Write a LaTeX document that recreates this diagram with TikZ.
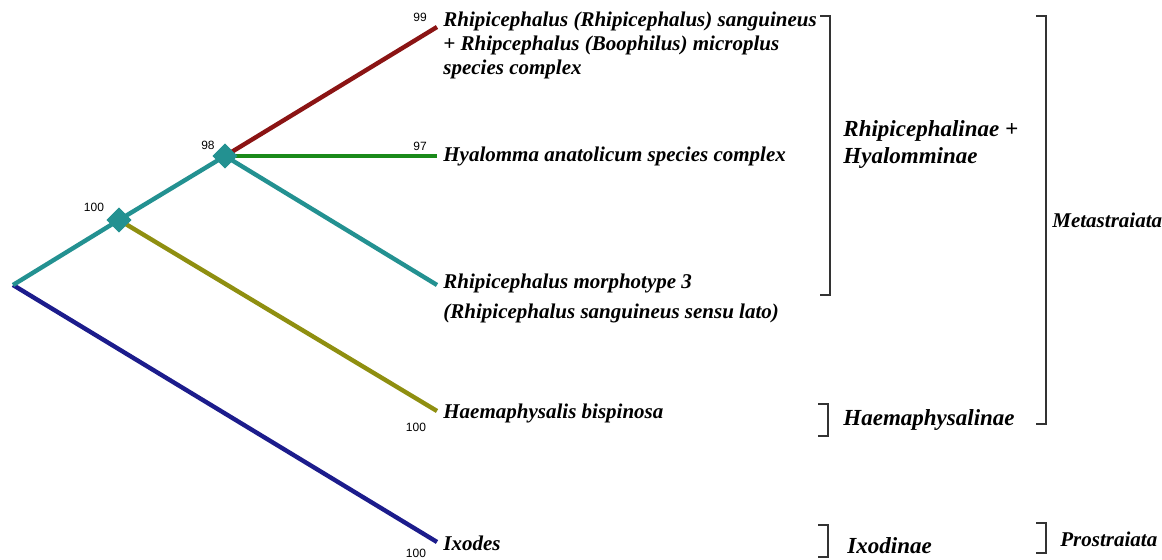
\documentclass[tikz,border=0pt]{standalone}
\usepackage{fontspec}
\setmainfont{Liberation Serif}
\setsansfont{Liberation Sans}
\usetikzlibrary{positioning, shapes.geometric}
\definecolor{cladered}{HTML}{8B1414}
\definecolor{cladegreen}{HTML}{1A8A1A}
\definecolor{cladeteal}{HTML}{239191}
\definecolor{cladeolive}{HTML}{8F8F10}
\definecolor{cladeblue}{HTML}{1C1C8C}

\begin{document}
\begin{tikzpicture}[x=0.5pt, y=-0.5pt,
  branch/.style={line width=2.2pt},
  splitnode/.style={diamond, fill=cladeteal, inner sep=0pt, minimum size=12.5pt},
  taxon/.style={anchor=west, align=left, inner sep=0pt, font=\fontsize{10.5}{12}\selectfont\bfseries\itshape},
  group/.style={anchor=west, align=left, inner sep=0pt, font=\fontsize{11.5}{13.5}\selectfont\bfseries\itshape},
  outer/.style={anchor=west, inner sep=0pt, font=\fontsize{10.5}{12}\selectfont\bfseries\itshape},
  support/.style={inner sep=0pt, font=\sffamily\fontsize{6}{7}\selectfont},
  bracket/.style={line width=0.6pt, black!80}
]
\useasboundingbox (0,0) rectangle (1162,560);

% tree points
\coordinate (root) at (13,285);
\node[splitnode] (na) at (119,220) {};
\node[splitnode] (nb) at (225,156) {};
\coordinate (leafred) at (437,27);
\coordinate (leafgreen) at (437,156);
\coordinate (leafteal) at (437,285);
\coordinate (leafolive) at (437,411);
\coordinate (leafblue) at (437,542);

% branches
\draw[branch, cladeblue] (root) -- (leafblue);
\draw[branch, cladeolive] (na.center) -- (leafolive);
\draw[branch, cladeteal] (nb.center) -- (leafteal);
\draw[branch, cladered] (nb.center) -- (leafred);
\draw[branch, cladegreen] (nb.center) -- (leafgreen);
\draw[branch, cladeteal] (root) -- (na.center) -- (nb.center);
\node[splitnode] at (na) {};
\node[splitnode] at (nb) {};

% support values
\node[support] (s100a) at (94,207) {100};
\node[support] (s98) at (208,145) {98};
\node[support] (s99) at (420,17) {99};
\node[support] (s97) at (420,146) {97};
\node[support] (s100b) at (416,427) {100};
\node[support] (s100c) at (416,553) {100};

% taxa
\node[taxon] (trhip) at (443,45) {Rhipicephalus (Rhipicephalus) sanguineus\\+ Rhipcephalus (Boophilus) microplus\\species complex};
\node[taxon] (thyal) at (443,156) {Hyalomma anatolicum species complex};
\node[taxon] (tmorph) at (443,298) {Rhipicephalus morphotype 3\\[3pt](Rhipicephalus sanguineus sensu lato)};
\node[taxon] (thaem) at (443,413) {Haemaphysalis bispinosa};
\node[taxon] (tixo) at (443,543) {Ixodes};

% groups
\draw[bracket] (820,16) -- (830,16) -- (830,295) -- (820,295);
\node[group] (grhip) at (843,145) {Rhipicephalinae +\\Hyalomminae};
\draw[bracket] (818,404) -- (828,404) -- (828,436) -- (818,436);
\node[group] (ghaem) at (843,420) {Haemaphysalinae};
\draw[bracket] (818,525) -- (828,525) -- (828,557) -- (818,557);
\node[group] (gixo) at (847,546) {Ixodinae};
\draw[bracket] (1036,16) -- (1046,16) -- (1046,424) -- (1036,424);
\node[outer] (gmeta) at (1052,220) {Metastraiata};
\draw[bracket] (1036,523) -- (1046,523) -- (1046,553) -- (1036,553);
\node[outer] (gpros) at (1060,539) {Prostraiata};
\end{tikzpicture}
\end{document}
